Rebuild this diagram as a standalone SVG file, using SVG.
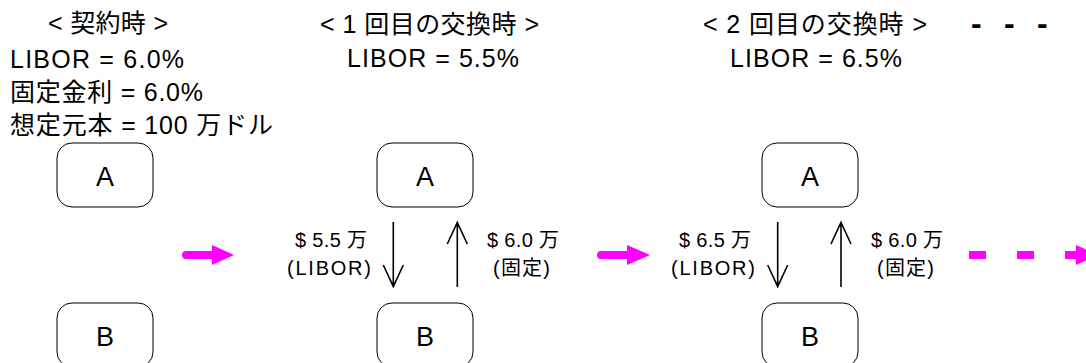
<svg xmlns="http://www.w3.org/2000/svg" width="1086" height="363" viewBox="0 0 1086 363">
<defs>
<style>
text{font-family:"Liberation Sans","Noto Sans CJK JP",sans-serif;fill:#000}
.t{font-size:25px}
.l{font-size:20px}
.n{font-size:27px;text-anchor:middle}
.box{fill:#fff;stroke:#000;stroke-width:1}
.ar{fill:none;stroke:#000;stroke-width:1.6}
.mg{stroke:#ff00ff;stroke-width:8;fill:none}
.mh{fill:#ff00ff}
.dd{font-size:32px;font-weight:bold}
</style>
</defs>
<g id="header">
<text class="t" x="48" y="32" textLength="120">&lt; 契約時 &gt;</text>
<text class="t" x="10" y="68" textLength="174">LIBOR = 6.0%</text>
<text class="t" x="10" y="101" textLength="193">固定金利 = 6.0%</text>
<text class="t" x="10" y="134" textLength="263">想定元本 = 100 万ドル</text>
<text class="t" x="320" y="33" textLength="219">&lt; 1 回目の交換時 &gt;</text>
<text class="t" x="347" y="67" textLength="172">LIBOR = 5.5%</text>
<text class="t" x="703" y="33" textLength="224">&lt; 2 回目の交換時 &gt;</text>
<text class="t" x="730" y="67" textLength="172">LIBOR = 6.5%</text>
<text class="dd" x="971 988 1004 1020 1037" y="34">- - -</text>
</g>
<g id="nodeA1"><rect class="box" x="57" y="143" width="96" height="64" rx="15"/><text class="n" x="105" y="186">A</text></g>
<g id="nodeB1"><rect class="box" x="57" y="303" width="96" height="64" rx="15"/><text class="n" x="105" y="346">B</text></g>
<g id="nodeA2"><rect class="box" x="377" y="143" width="96" height="64" rx="15"/><text class="n" x="425" y="186">A</text></g>
<g id="nodeB2"><rect class="box" x="377" y="303" width="96" height="64" rx="15"/><text class="n" x="425" y="346">B</text></g>
<g id="nodeA3"><rect class="box" x="762" y="143" width="96" height="64" rx="15"/><text class="n" x="810" y="186">A</text></g>
<g id="nodeB3"><rect class="box" x="762" y="303" width="96" height="64" rx="15"/><text class="n" x="810" y="346">B</text></g>
<g id="connectors">
<path class="ar" d="M393.3,222 V286.7 M383.3,265 L393.3,286.7 L403.3,265"/>
<path class="ar" d="M457.3,287 V222.5 M447.3,244 L457.3,222.5 L467.3,244"/>
<path class="ar" d="M777.7,222 V286.7 M767.7,265 L777.7,286.7 L787.7,265"/>
<path class="ar" d="M841,287 V222.5 M831,244 L841,222.5 L851,244"/>
<line class="mg" x1="186" y1="255" x2="213" y2="255" stroke-linecap="round"/>
<polygon class="mh" points="212,245 234,255 212,265"/>
<line class="mg" x1="601" y1="255" x2="628" y2="255" stroke-linecap="round"/>
<polygon class="mh" points="627,245 650,255 627,265"/>
<line class="mg" x1="969" y1="255" x2="1077" y2="255" stroke-dasharray="17 31"/>
<polygon class="mh" points="1076,245 1098,255 1076,265"/>
</g>
<g id="labels">
<text class="l" x="295" y="247" textLength="72">$ 5.5 万</text>
<text class="l" x="287" y="275" textLength="84">(LIBOR)</text>
<text class="l" x="487" y="247" textLength="72">$ 6.0 万</text>
<text class="l" x="493" y="275" textLength="57">(固定)</text>
<text class="l" x="679" y="247" textLength="72">$ 6.5 万</text>
<text class="l" x="671" y="275" textLength="84">(LIBOR)</text>
<text class="l" x="871" y="247" textLength="72">$ 6.0 万</text>
<text class="l" x="877" y="275" textLength="57">(固定)</text>
</g>
</svg>
